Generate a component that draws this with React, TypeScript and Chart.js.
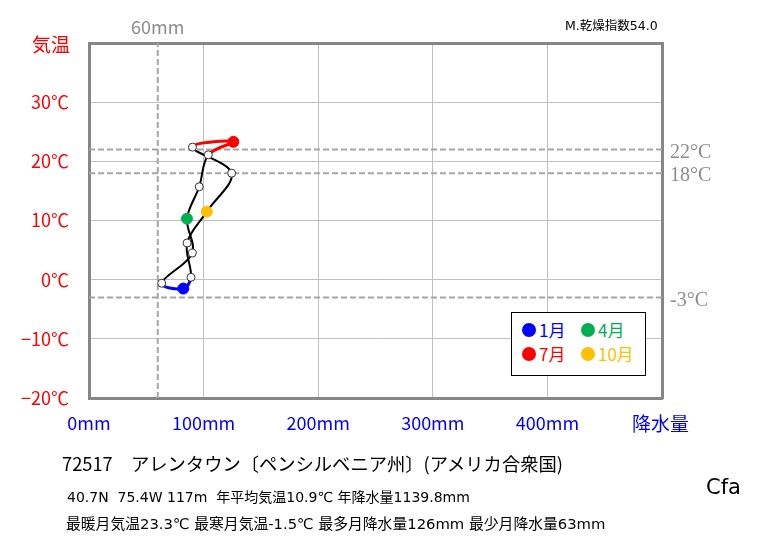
import React, { useEffect, useRef } from 'react';
import { Chart, registerables } from 'chart.js';

Chart.register(...registerables);

// ---- data ----
const MONTHS = ['1月', '2月', '3月', '4月', '5月', '6月', '7月', '8月', '9月', '10月', '11月', '12月'];
const PRECIP = [82.3, 63.4, 90.1, 85.5, 96.2, 104.1, 126.0, 90.3, 124.5, 102.8, 85.6, 89.0];
const TEMP = [-1.5, -0.6, 4.5, 10.3, 15.7, 21.1, 23.3, 22.4, 18.0, 11.5, 6.2, 0.4];
const X_MIN = 0;
const X_MAX = 500;
const Y_MIN = -20;
const Y_MAX = 40;
const TEMP_LINES = [22, 18, -3];
const PRECIP_LINES = [60];
const HIGHLIGHT: Record<number, string> = { 0: '#0000FF', 3: '#00B050', 6: '#FF0000', 9: '#FFC000' };
const LEGEND_ITEMS = [0, 3, 6, 9];

const JP = "'Noto Sans CJK JP', sans-serif";
const INFO = "'DejaVu Sans', 'Noto Sans CJK JP', sans-serif";

export default function App() {
  const ref = useRef<HTMLCanvasElement>(null);

  useEffect(() => {
    if (!ref.current) return;
    const n = MONTHS.length;
    const loopIdx = [n - 1, ...Array.from({ length: n }, (_, i) => i), 0, 1];
    const curve = loopIdx.map((i) => ({ x: PRECIP[i], y: TEMP[i] }));
    const segStyle = (p0: number) => {
      if (p0 === 0 || p0 === n + 1) return { c: 'rgba(0,0,0,0)', w: 0 };
      const a = loopIdx[p0];
      const b = loopIdx[p0 + 1];
      if (a === 0 || b === 0) return { c: HIGHLIGHT[0], w: 3 };
      if (a === 6 || b === 6) return { c: HIGHLIGHT[6], w: 3 };
      return { c: '#000000', w: 2 };
    };

    const refSets: any[] = [
      ...TEMP_LINES.map((t) => ({
        data: [{ x: X_MIN, y: t }, { x: X_MAX, y: t }],
      })),
      ...PRECIP_LINES.map((p) => ({
        data: [{ x: p, y: Y_MIN }, { x: p, y: Y_MAX }],
      })),
    ].map((d) => ({
      ...d,
      showLine: true,
      borderColor: '#a6a6a6',
      borderWidth: 2,
      borderDash: [6, 3],
      pointRadius: 0,
      order: 3,
    }));

    const chart = new Chart(ref.current, {
      type: 'scatter',
      data: {
        datasets: [
          ...refSets,
          {
            data: curve,
            showLine: true,
            tension: 0.35,
            pointRadius: 0,
            borderColor: '#000',
            borderWidth: 2,
            segment: {
              borderColor: (ctx: any) => segStyle(ctx.p0DataIndex).c,
              borderWidth: (ctx: any) => segStyle(ctx.p0DataIndex).w,
            },
            order: 1,
          },
          {
            data: MONTHS.map((_, i) => ({ x: PRECIP[i], y: TEMP[i] })),
            showLine: false,
            pointRadius: MONTHS.map((_, i) => (HIGHLIGHT[i] ? 5.5 : 4)),
            pointBackgroundColor: MONTHS.map((_, i) => HIGHLIGHT[i] || '#ffffff'),
            pointBorderColor: MONTHS.map((_, i) => HIGHLIGHT[i] || '#333333'),
            pointBorderWidth: 1,
            order: 0,
          },
        ],
      },
      options: {
        responsive: false,
        maintainAspectRatio: false,
        animation: false,
        layout: { padding: 0 },
        plugins: { legend: { display: false }, tooltip: { enabled: false } },
        scales: {
          x: {
            type: 'linear',
            position: 'bottom',
            min: X_MIN,
            max: X_MAX,
            ticks: {
              stepSize: 100,
              autoSkip: false,
              maxRotation: 0,
              padding: 14,
              color: '#0000FF',
              font: { family: JP, size: 18 },
              callback: (v: any) => (v === X_MAX ? '' : `${v}mm`),
            },
            grid: { color: '#bfbfbf', lineWidth: 1, drawTicks: false },
            border: { display: true, color: '#868686', width: 3 },
            afterFit: (s: any) => {
              s.height = 147;
            },
          },
          x2: {
            type: 'linear',
            position: 'top',
            min: X_MIN,
            max: X_MAX,
            afterBuildTicks: (s: any) => {
              s.ticks = PRECIP_LINES.map((v) => ({ value: v }));
            },
            ticks: {
              autoSkip: false,
              maxRotation: 0,
              padding: 5,
              color: '#8c8c8c',
              font: { family: JP, size: 18 },
              callback: (v: any) => `${v}mm`,
            },
            grid: { display: false, drawTicks: false },
            border: { display: true, color: '#868686', width: 3 },
            afterFit: (s: any) => {
              s.height = 43;
            },
          },
          y: {
            type: 'linear',
            position: 'left',
            min: Y_MIN,
            max: Y_MAX,
            ticks: {
              stepSize: 10,
              autoSkip: false,
              padding: 20,
              color: '#FF0000',
              font: { family: JP, size: 18 },
              callback: (v: any) => (v === Y_MAX ? '' : `${v < 0 ? '−' : ''}${Math.abs(v)}℃`),
            },
            grid: { color: '#bfbfbf', lineWidth: 1, drawTicks: false },
            border: { display: true, color: '#868686', width: 3 },
            afterFit: (s: any) => {
              s.width = 89;
            },
          },
          y2: {
            type: 'linear',
            position: 'right',
            min: Y_MIN,
            max: Y_MAX,
            afterBuildTicks: (s: any) => {
              s.ticks = TEMP_LINES.map((v) => ({ value: v }));
            },
            ticks: {
              autoSkip: false,
              padding: 8,
              labelOffset: 3,
              color: '#8c8c8c',
              font: { family: "'Liberation Serif', serif", size: 20 },
              callback: (v: any) => `${v}°C`,
            },
            grid: { display: false, drawTicks: false },
            border: { display: true, color: '#868686', width: 3 },
            afterFit: (s: any) => {
              s.width = 101;
            },
          },
        },
      } as any,
    });
    return () => chart.destroy();
  }, []);

  const abs = (style: React.CSSProperties): React.CSSProperties => ({
    position: 'absolute',
    whiteSpace: 'nowrap',
    lineHeight: 1,
    ...style,
  });

  return (
    <div style={{ position: 'absolute', left: 0, top: 0, width: 763, height: 545, background: '#fff', overflow: 'hidden' }}>
      <canvas ref={ref} width={763} height={545} style={{ position: 'absolute', left: 0, top: 0, width: 763, height: 545 }} />
      <div style={abs({ right: 763 - 70, top: 34, fontFamily: JP, fontSize: 19, color: '#FF0000' })}>気温</div>
      <div style={abs({ left: 632, top: 413, fontFamily: JP, fontSize: 19, color: '#0000FF' })}>降水量</div>
      <div style={abs({ left: 565, top: 20, fontFamily: INFO, fontSize: 12.5, color: '#000' })}>M.乾燥指数54.0</div>
      <div style={abs({ left: 62, top: 454, fontFamily: JP, fontSize: 18.3, color: '#000' })}>
        72517　アレンタウン〔ペンシルベニア州〕(アメリカ合衆国)
      </div>
      <div style={abs({ left: 67, top: 490, fontFamily: INFO, fontSize: 14, color: '#000' })}>
        40.7N&nbsp;&nbsp;75.4W 117m&nbsp;&nbsp;年平均気温10.9℃ 年降水量1139.8mm
      </div>
      <div style={abs({ left: 66, top: 517, fontFamily: INFO, fontSize: 14.8, color: '#000' })}>
        最暖月気温23.3℃ 最寒月気温-1.5℃ 最多月降水量126mm 最少月降水量63mm
      </div>
      <div style={abs({ left: 706, top: 477, fontFamily: INFO, fontSize: 21, color: '#000' })}>Cfa</div>
      <div
        style={{
          position: 'absolute',
          left: 511,
          top: 312,
          width: 135,
          height: 64,
          boxSizing: 'border-box',
          border: '1.5px solid #000',
          background: '#fff',
        }}
      >
        {LEGEND_ITEMS.map((m, k) => {
          const col = k % 2;
          const row = Math.floor(k / 2);
          const cx = 17 + col * 59;
          const cy = 17 + row * 24;
          return (
            <React.Fragment key={m}>
              <div
                style={{
                  position: 'absolute',
                  left: cx - 7,
                  top: cy - 7,
                  width: 14,
                  height: 14,
                  borderRadius: '50%',
                  background: HIGHLIGHT[m],
                }}
              />
              <div style={abs({ left: cx + 10, top: cy - 9, fontFamily: JP, fontSize: 17, color: HIGHLIGHT[m] })}>
                {MONTHS[m]}
              </div>
            </React.Fragment>
          );
        })}
      </div>
    </div>
  );
}
